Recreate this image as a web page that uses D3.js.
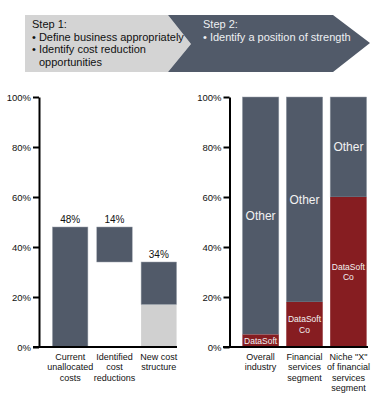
<!DOCTYPE html>
<html>
<head>
<meta charset="utf-8">
<script src="https://cdn.jsdelivr.net/npm/d3@7"></script>
<style>
  body { margin: 0; background: #fff; }
  svg text { font-family: Arial, "Liberation Sans", sans-serif; }
</style>
</head>
<body>
<div id="chart"></div>
<script>
// left chart data: cost bridge
var costCats = ["Current|unallocated|costs", "Identified|cost|reductions", "New cost|structure"];
var costLow = [0, 34, 17];     // bottom of the dark part
var costHigh = [48, 48, 34];   // top of the dark part
var costLight = [0, 0, 17];    // light grey base part
var costLabels = ["48%", "14%", "34%"];

// right chart data: share of segment
var shareCats = ["Overall|industry", "Financial|services|segment", "Niche \"X\"|of financial|services|segment"];
var dataSoft = [5, 18, 60];
var shareTotal = [100, 100, 100];
var dataSoftNames = ["DataSoft", "DataSoft|Co", "DataSoft|Co"];

var yTicks = [0, 20, 40, 60, 80, 100];

var dark = "#515a69";
var red = "#861d21";
var light = "#d0d0d0";

var svg = d3.select("#chart").append("svg")
    .attr("width", 388)
    .attr("height", 400);

// header chevrons
svg.append("polygon")
    .attr("points", "25,15 168,15 191,44 168,72 25,72")
    .attr("fill", "#d4d4d4");
svg.append("polygon")
    .attr("points", "168,15 333,15 370,43 333,72 168,72 191,44")
    .attr("fill", dark);

var h1 = svg.append("g").attr("font-size", "11px").attr("fill", "#111");
h1.append("text").attr("x", 32).attr("y", 28).text("Step 1:");
h1.append("text").attr("x", 32).attr("y", 40.5).text("\u2022 Define business appropriately");
h1.append("text").attr("x", 32).attr("y", 53).text("\u2022 Identify cost reduction");
h1.append("text").attr("x", 39).attr("y", 66).text("opportunities");

var h2 = svg.append("g").attr("font-size", "11px").attr("fill", "#eef0f2");
h2.append("text").attr("x", 203).attr("y", 28).text("Step 2:");
h2.append("text").attr("x", 203).attr("y", 40.5).text("\u2022 Identify a position of strength");

var y = d3.scaleLinear().domain([0, 100]).range([347, 97]);

function drawAxis(axisX, baseFrom, baseTo) {
    var g = svg.append("g")
        .attr("transform", "translate(" + axisX + ",0)")
        .call(d3.axisLeft(y).tickValues(yTicks).tickSize(6).tickSizeOuter(0).tickPadding(2)
            .tickFormat(function (d) { return d + "%"; }));
    g.select(".domain").attr("stroke", "#000").attr("stroke-width", 2);
    g.selectAll(".tick line").attr("stroke", "#000").attr("stroke-width", 2);
    g.selectAll(".tick text")
        .attr("font-family", "Arial, 'Liberation Sans', sans-serif")
        .attr("font-size", "9.5px")
        .attr("fill", "#111");
    svg.append("line")
        .attr("x1", baseFrom).attr("x2", baseTo)
        .attr("y1", y(0)).attr("y2", y(0))
        .attr("stroke", "#000").attr("stroke-width", 2);
}

function catLabels(xs, cats) {
    cats.forEach(function (c, i) {
        var t = svg.append("text")
            .attr("text-anchor", "middle")
            .attr("font-size", "9px")
            .attr("fill", "#111");
        c.split("|").forEach(function (line, j) {
            t.append("tspan")
                .attr("x", xs(c) + xs.bandwidth() / 2)
                .attr("y", 359.5 + j * 10.5)
                .text(line);
        });
    });
}

// left chart
var x1 = d3.scaleBand().domain(costCats).range([48, 181]).paddingInner(0.2).paddingOuter(0.1);

svg.selectAll(".light").data(costCats).enter().append("rect")
    .filter(function (d, i) { return costLight[i] > 0; })
    .attr("x", function (d) { return x1(d); })
    .attr("width", x1.bandwidth())
    .attr("y", function (d) { return y(costLight[costCats.indexOf(d)]); })
    .attr("height", function (d) { return y(0) - y(costLight[costCats.indexOf(d)]); })
    .attr("fill", light);

svg.selectAll(".cost").data(costCats).enter().append("rect")
    .attr("x", function (d) { return x1(d); })
    .attr("width", x1.bandwidth())
    .attr("y", function (d, i) { return y(costHigh[i]); })
    .attr("height", function (d, i) { return y(costLow[i]) - y(costHigh[i]); })
    .attr("fill", dark)
    .attr("stroke", "#9aa1ab")
    .attr("stroke-width", 0.5);

svg.selectAll(".costlbl").data(costCats).enter().append("text")
    .attr("x", function (d) { return x1(d) + x1.bandwidth() / 2; })
    .attr("y", function (d, i) { return y(costHigh[i]) - 4; })
    .attr("text-anchor", "middle")
    .attr("font-size", "10px")
    .attr("fill", "#111")
    .text(function (d, i) { return costLabels[i]; });

drawAxis(39, 33, 177);
catLabels(x1, costCats);

// right chart
var x2 = d3.scaleBand().domain(shareCats).range([238, 371]).paddingInner(0.17).paddingOuter(0.1);

svg.selectAll(".other").data(shareCats).enter().append("rect")
    .attr("x", function (d) { return x2(d); })
    .attr("width", x2.bandwidth())
    .attr("y", function (d, i) { return y(shareTotal[i]); })
    .attr("height", function (d, i) { return y(dataSoft[i]) - y(shareTotal[i]); })
    .attr("fill", dark)
    .attr("stroke", "#9aa1ab")
    .attr("stroke-width", 0.5);

svg.selectAll(".ds").data(shareCats).enter().append("rect")
    .attr("x", function (d) { return x2(d); })
    .attr("width", x2.bandwidth())
    .attr("y", function (d, i) { return y(dataSoft[i]); })
    .attr("height", function (d, i) { return y(0) - y(dataSoft[i]); })
    .attr("fill", red);

svg.selectAll(".otherlbl").data(shareCats).enter().append("text")
    .attr("x", function (d) { return x2(d) + x2.bandwidth() / 2; })
    .attr("y", function (d, i) { return y((shareTotal[i] + dataSoft[i]) / 2) + 4; })
    .attr("text-anchor", "middle")
    .attr("font-size", "12px")
    .attr("fill", "#f2f2f2")
    .text("Other");

shareCats.forEach(function (c, i) {
    var lines = dataSoftNames[i].split("|");
    var mid = y(dataSoft[i] / 2);
    var t = svg.append("text")
        .attr("text-anchor", "middle")
        .attr("font-size", "8.5px")
        .attr("fill", "#f2f2f2");
    lines.forEach(function (line, j) {
        t.append("tspan")
            .attr("x", x2(c) + x2.bandwidth() / 2)
            .attr("y", mid + 3 + (j - (lines.length - 1) / 2) * 10.5)
            .text(line);
    });
});

drawAxis(229.5, 223, 368);
catLabels(x2, shareCats);
</script>
</body>
</html>
